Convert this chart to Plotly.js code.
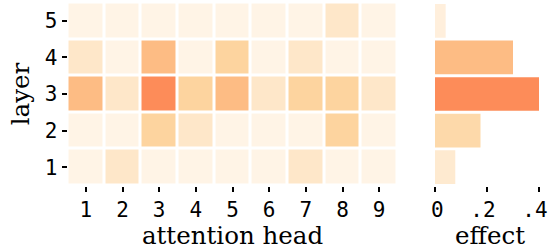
<!DOCTYPE html>
<html>
<head>
<meta charset="utf-8">
<script src="https://cdn.plot.ly/plotly-3.0.1.min.js"></script>
<style>html,body{margin:0;padding:0;background:#fff;}#chart{width:548px;height:250px;}</style>
</head>
<body>
<div id="chart"></div>
<script>
const heads = [1, 2, 3, 4, 5, 6, 7, 8, 9];
const layers = [1, 2, 3, 4, 5];
// attention-head effect per layer (rows = layers 1..5)
const layer1 = [0.01, 0.10, 0.01, 0.01, 0.01, 0.01, 0.10, 0.01, 0.01];
const layer2 = [0.01, 0.01, 0.20, 0.10, 0.01, 0.01, 0.01, 0.20, 0.01];
const layer3 = [0.30, 0.10, 0.40, 0.20, 0.30, 0.10, 0.20, 0.20, 0.10];
const layer4 = [0.10, 0.01, 0.30, 0.01, 0.20, 0.01, 0.10, 0.01, 0.01];
const layer5 = [0.01, 0.01, 0.01, 0.01, 0.01, 0.01, 0.01, 0.10, 0.01];
const layerEffect = [0.078, 0.175, 0.40, 0.30, 0.041];
const effectTicks = [0, 0.2, 0.4];
const effectTickText = ['0', '.2', '.4'];

const cscale = [[0, '#fff5e9'], [0.25, '#fee7c9'], [0.5, '#fdd49f'], [0.75, '#fdbc84'], [1, '#fd8c59']];
const tickFont = {family: 'DejaVu Sans Mono', size: 21, color: '#000'};
const titleFont = {family: 'DejaVu Serif', size: 24.5, color: '#000'};

const heat = {
  type: 'heatmap', x: heads, y: layers,
  z: [layer1, layer2, layer3, layer4, layer5],
  colorscale: cscale, zmin: 0, zmax: 0.4, showscale: false,
  xgap: 3, ygap: 3, xaxis: 'x', yaxis: 'y', hoverinfo: 'skip'
};
const bars = {
  type: 'bar', orientation: 'h', x: layerEffect, y: layers,
  marker: {color: layerEffect, colorscale: cscale, cmin: 0, cmax: 0.4, line: {width: 0}},
  xaxis: 'x2', yaxis: 'y2', hoverinfo: 'skip'
};
const axBase = {ticks: 'outside', ticklen: 5, tickwidth: 2, tickcolor: '#000',
  showgrid: false, zeroline: false, showline: false, tickfont: tickFont, fixedrange: true};
// a leading space keeps the lone "0" on its tick after the shared label shift
const effectLabels = effectTickText.map(t => t.length === 1 ? '\u00a0' + t : t);
const layout = {
  width: 548, height: 250, margin: {l: 0, r: 0, t: 0, b: 0},
  paper_bgcolor: '#fff', plot_bgcolor: '#fff', showlegend: false, bargap: 0.08,
  xaxis: Object.assign({}, axBase, {domain: [67.5/548, 397.5/548], range: [0.5, 9.5],
    tickvals: heads, title: {text: 'attention head', font: titleFont, standoff: 5}}),
  yaxis: Object.assign({}, axBase, {domain: [(250-185.5)/250, (250-2.5)/250], range: [0.5, 5.5],
    tickvals: layers, title: {text: 'layer', font: titleFont, standoff: 8}}),
  xaxis2: Object.assign({}, axBase, {domain: [432/548, 1], range: [-3/260, 113/260],
    tickvals: effectTicks, ticktext: effectLabels, anchor: 'y2', ticklabelshift: -4,
    title: {text: 'effect', font: titleFont, standoff: 5}}),
  yaxis2: Object.assign({}, axBase, {domain: [(250-185.5)/250, (250-2.5)/250], range: [0.5, 5.5],
    anchor: 'x2', showticklabels: false, ticks: ''})
};
Plotly.newPlot('chart', [heat, bars], layout, {staticPlot: true, displayModeBar: false});
</script>
</body>
</html>
